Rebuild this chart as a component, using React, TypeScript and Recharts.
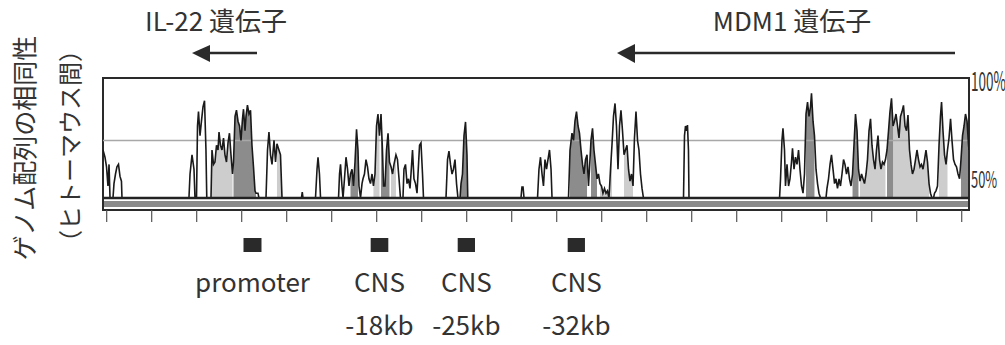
import React from 'react';
import { ComposedChart, Area, Line, XAxis, YAxis, ReferenceLine, ReferenceArea } from 'recharts';

type Pt = [number, number];

const FONT = '"Noto Sans CJK JP", "Noto Sans", sans-serif';

// position (kb) , % identity (human vs mouse)
const edgePeaks: Pt[] = [
  [-0.41, 70], [-0.19, 67], [-0.02, 63], [0.14, 55], [0.26, 64], [0.37, 50], [0.7, 50], [0.81, 56], [0.98, 60],
  [1.14, 63], [1.31, 64], [1.48, 59], [1.64, 57], [1.7, 50],
];

const il22Peaks: Pt[] = [
  [9.14, 50], [9.26, 60], [9.48, 68], [9.7, 62], [9.81, 50],
  [9.98, 50], [10.09, 80], [10.2, 86], [10.37, 76], [10.53, 82], [10.7, 88], [10.87, 90.5], [11.03, 70], [11.12, 50],
  [11.59, 50], [11.7, 70], [11.87, 64], [12.03, 65], [12.2, 72], [12.37, 70], [12.48, 77.5], [12.64, 72], [12.81, 70],
  [12.98, 75], [13.14, 68], [13.31, 65], [13.48, 73], [13.64, 77], [13.81, 68], [13.98, 60], [14.09, 65], [14.26, 84],
  [14.42, 86.6], [14.59, 82], [14.76, 80], [14.92, 74], [15.09, 83], [15.2, 87], [15.37, 78], [15.48, 84], [15.64, 88.7],
  [15.81, 85], [15.98, 86.5], [16.14, 72], [16.31, 63], [16.48, 53], [16.59, 52], [16.81, 52], [16.92, 50],
  [17.7, 50], [17.87, 70], [18.03, 77.5], [18.2, 68], [18.37, 64], [18.59, 74], [18.76, 65], [18.92, 72.6], [19.14, 70],
  [19.31, 68], [19.48, 50],
  [21.64, 50], [21.73, 52.5], [21.81, 50],
  [23.2, 50], [23.37, 62], [23.48, 67], [23.64, 60], [23.76, 50],
];

const cns18Peaks: Pt[] = [
  [25.76, 50], [25.87, 60], [25.98, 64], [26.14, 55], [26.26, 50], [26.42, 58], [26.59, 67], [26.76, 62], [26.92, 55],
  [27.09, 60], [27.26, 62], [27.42, 55], [27.59, 65], [27.76, 78.6], [27.92, 70], [28.03, 55], [28.2, 50], [28.37, 56],
  [28.48, 58], [28.64, 60], [28.81, 66], [28.98, 63], [29.14, 58], [29.31, 56], [29.48, 60], [29.64, 55], [29.81, 60],
  [29.98, 80], [30.14, 85], [30.31, 76], [30.48, 85], [30.64, 70], [30.76, 55], [30.92, 55], [31.09, 70], [31.26, 77],
  [31.42, 65], [31.59, 63], [31.76, 60], [31.92, 64], [32.14, 68], [32.31, 66], [32.48, 58], [32.64, 50],
  [32.92, 50], [33.03, 62], [33.2, 64], [33.37, 56], [33.53, 58], [33.7, 54], [33.81, 60], [33.98, 70], [34.14, 58],
  [34.31, 56], [34.48, 52], [34.59, 60], [34.76, 72], [34.92, 73], [35.09, 60], [35.2, 50],
];

const cns25Peaks: Pt[] = [
  [37.7, 50], [37.87, 66], [38.03, 69.5], [38.2, 64], [38.37, 60], [38.53, 62], [38.7, 66], [38.87, 56], [39.03, 50],
  [39.26, 50], [39.37, 56], [39.53, 60], [39.7, 76], [39.87, 81.7], [40.03, 68], [40.12, 50],
];

const cns32Peaks: Pt[] = [
  [46.03, 50], [46.14, 54.6], [46.26, 54.6], [46.37, 50],
  [47.87, 50], [48.03, 62], [48.2, 67], [48.37, 60], [48.53, 55], [48.7, 66], [48.87, 62], [49.03, 66], [49.2, 70],
  [49.37, 62], [49.48, 50],
  [51.31, 50], [51.48, 70], [51.7, 77], [51.87, 74], [52.03, 82], [52.2, 86], [52.37, 80], [52.53, 77], [52.7, 70],
  [52.87, 64], [53.03, 60], [53.2, 66], [53.37, 68], [53.53, 55], [53.64, 62], [53.81, 74], [53.98, 79], [54.14, 70],
  [54.31, 64], [54.48, 58], [54.64, 60], [54.81, 56], [54.98, 55], [55.14, 52], [55.31, 54], [55.48, 52], [55.64, 53],
  [55.81, 50], [55.98, 62], [56.14, 72], [56.31, 84], [56.48, 89.4], [56.64, 80], [56.81, 62], [56.98, 80], [57.14, 86.5],
  [57.31, 78], [57.48, 68], [57.64, 70], [57.81, 72], [57.98, 62], [58.14, 57], [58.31, 60], [58.48, 55], [58.64, 75],
  [58.81, 86], [58.98, 74], [59.14, 70], [59.31, 60], [59.48, 54], [59.64, 50],
];

const mdm1Peaks: Pt[] = [
  [64.09, 50], [64.2, 76], [64.31, 80], [64.42, 78], [64.53, 80.4], [64.64, 70], [64.7, 50],
  [74.76, 50], [74.87, 58], [75.03, 74], [75.14, 79], [75.31, 70], [75.42, 55], [75.59, 64], [75.76, 55], [75.92, 58],
  [76.09, 65], [76.2, 70.7], [76.37, 62], [76.53, 67], [76.7, 64], [76.87, 70], [77.03, 62], [77.2, 55], [77.37, 52],
  [77.53, 60], [77.7, 85], [77.87, 90], [78.03, 84], [78.2, 88], [78.31, 93.6], [78.48, 82], [78.64, 76], [78.81, 62],
  [78.98, 56], [79.14, 52], [79.31, 50],
  [79.92, 50], [80.03, 54], [80.2, 58], [80.37, 64], [80.53, 68], [80.7, 62], [80.87, 56], [81.03, 58], [81.2, 54],
  [81.37, 58], [81.53, 55], [81.7, 60], [81.87, 66], [82.03, 64], [82.2, 60], [82.37, 63], [82.53, 58], [82.7, 55],
  [82.87, 60], [83.03, 72], [83.2, 85], [83.37, 78], [83.53, 62], [83.7, 57], [83.87, 60], [84.03, 58], [84.2, 56],
  [84.37, 60], [84.53, 66], [84.7, 78], [84.87, 83], [85.03, 72], [85.2, 66], [85.37, 62], [85.53, 70], [85.7, 76],
  [85.87, 66], [86.03, 62], [86.2, 65], [86.37, 64], [86.53, 66], [86.7, 70], [86.87, 78], [87.03, 86], [87.2, 91.5],
  [87.37, 80], [87.53, 82], [87.7, 85], [87.87, 80], [88.03, 75], [88.2, 84], [88.37, 86], [88.53, 88.6], [88.7, 80],
  [88.87, 78], [89.03, 84.6], [89.2, 70], [89.37, 64], [89.53, 60], [89.7, 62], [89.87, 66], [90.03, 70], [90.2, 66],
  [90.37, 63], [90.53, 64], [90.7, 62], [90.87, 66], [91.03, 70], [91.2, 65], [91.37, 56], [91.53, 52], [91.7, 50],
  [91.87, 50], [91.98, 52], [92.14, 53], [92.31, 55], [92.48, 72], [92.64, 84], [92.76, 90], [92.92, 78], [93.09, 68],
  [93.26, 64], [93.42, 70], [93.59, 75], [93.76, 83], [93.92, 74], [94.09, 66], [94.26, 64], [94.42, 63], [94.59, 60],
  [94.76, 58], [94.92, 66], [95.09, 76], [95.26, 80], [95.42, 85], [95.59, 82], [95.76, 72], [95.81, 70],
];

// shaded (conserved element) ranges, kb
const midFillRanges: Pt[] = [
  [14.03, 16.7], [27.03, 27.92], [30.37, 31.48], [39.26, 40.12], [51.36, 53.48], [53.7, 54.48], [77.59, 78.7],
  [82.87, 83.53], [86.7, 87.37], [94.92, 95.81],
];
const lightFillRanges: Pt[] = [
  [11.7, 14.03], [18.81, 19.48], [29.64, 30.37], [31.59, 32.14], [54.81, 56.14], [57.37, 58.59], [83.7, 86.59],
  [87.37, 91.48], [92.42, 93.5],
];

const positionTicks = [0, 5, 10, 15, 20, 25, 30, 35, 40, 45, 50, 55, 60, 65, 70, 75, 80, 85, 90, 95];
const identityTicks = [50, 100];
const thresholdPct = 74;
const xDomain: Pt = [-0.41, 95.81];
const yDomain: Pt = [45, 100];

const markers = [
  { from: 15.2, to: 17.2, lines: ['promoter'] },
  { from: 29.33, to: 31.29, lines: ['CNS', '-18kb'] },
  { from: 39.0, to: 40.92, lines: ['CNS', '-25kb'] },
  { from: 51.22, to: 53.14, lines: ['CNS', '-32kb'] },
];

const inRanges = (x: number, ranges: Pt[]) => ranges.some(([a, b]) => x >= a && x <= b);

const rows = [...edgePeaks, ...il22Peaks, ...cns18Peaks, ...cns25Peaks, ...cns32Peaks, ...mdm1Peaks].map(([kb, pct]) => ({
  kb,
  pct,
  mid: inRanges(kb, midFillRanges) ? pct : null,
  light: inRanges(kb, lightFillRanges) ? pct : null,
}));

const EmptyTick = () => <g />;

const PctTick = (props: any) => {
  const { x, y, payload } = props;
  const top = payload.value === 100;
  const sx = top ? 0.5 : 0.56;
  return (
    <text
      transform={`translate(${x + 2},${y + (top ? 13 : -10)}) scale(${sx},1)`}
      fontSize={top ? 27 : 23}
      fill="#333"
      fontFamily={FONT}
    >
      {payload.value}%
    </text>
  );
};

const MarkerLabel = (props: any) => {
  const { viewBox, lines } = props;
  if (!viewBox) return null;
  const cx = viewBox.x + viewBox.width / 2;
  const bottom = viewBox.y + viewBox.height;
  return (
    <g>
      {lines.map((t: string, i: number) => (
        <text key={i} x={cx} y={bottom + 40 + i * 43} textAnchor="middle" fontSize={26} fill="#333" fontFamily={FONT}>
          {t}
        </text>
      ))}
    </g>
  );
};

export default function App() {
  return (
    <div style={{ position: 'absolute', left: 0, top: 0, width: 1005, height: 345, background: '#fff' }}>
      <ComposedChart width={1005} height={345} data={rows} margin={{ top: 78, right: 0, bottom: 123, left: 103 }}>
        <XAxis
          dataKey="kb"
          type="number"
          domain={xDomain}
          allowDataOverflow
          ticks={positionTicks}
          tick={<EmptyTick />}
          tickSize={12}
          axisLine={false}
          tickLine={{ stroke: '#555', strokeWidth: 1.2 }}
          height={12}
        />
        <YAxis
          orientation="right"
          type="number"
          domain={yDomain}
          allowDataOverflow
          ticks={identityTicks}
          width={36}
          axisLine={false}
          tickLine={false}
          tickSize={0}
          tickMargin={0}
          tick={<PctTick />}
        />
        <ReferenceArea y1={46.25} y2={48.75} fill="#8a8a8a" fillOpacity={1} stroke="none" />
        <ReferenceLine y={thresholdPct} stroke="#a8a8a8" strokeWidth={1.5} />
        <Area type="linear" dataKey="light" baseValue={50} fill="#cdcdcd" fillOpacity={1} stroke="none" isAnimationActive={false} />
        <Area type="linear" dataKey="mid" baseValue={50} fill="#8c8c8c" fillOpacity={1} stroke="none" isAnimationActive={false} />
        <Line type="linear" dataKey="pct" stroke="#1a1a1a" strokeWidth={1.6} dot={false} isAnimationActive={false} />
        <ReferenceLine y={50} stroke="#222" strokeWidth={2.5} />
        <ReferenceArea x1={xDomain[0]} x2={xDomain[1]} y1={yDomain[0]} y2={yDomain[1]} fill="none" stroke="#2a2a2a" strokeWidth={2} />
        {markers.map((m) => (
          <ReferenceArea
            key={m.lines.join('')}
            x1={m.from}
            x2={m.to}
            y1={27.5}
            y2={33.33}
            ifOverflow="visible"
            fill="#2a2a2a"
            fillOpacity={1}
            stroke="none"
            label={<MarkerLabel lines={m.lines} />}
          />
        ))}
      </ComposedChart>
      <svg width={1005} height={345} style={{ position: 'absolute', left: 0, top: 0, pointerEvents: 'none' }}>
        <text x={216} y={30.5} textAnchor="middle" fontSize={26} fill="#333" fontFamily={FONT}>IL-22 遺伝子</text>
        <text x={792} y={30.5} textAnchor="middle" fontSize={26} fill="#333" fontFamily={FONT}>MDM1 遺伝子</text>
        <line x1={206} y1={53} x2={257} y2={53} stroke="#2a2a2a" strokeWidth={2.6} />
        <polygon points="192,53 210,45 210,62" fill="#2a2a2a" />
        <line x1={632} y1={53} x2={955} y2={53} stroke="#2a2a2a" strokeWidth={2.6} />
        <polygon points="617,53 635,44 635,63" fill="#2a2a2a" />
        <text transform="translate(23,148) rotate(-90)" textAnchor="middle" dominantBaseline="central" fontSize={25} fill="#333" fontFamily={FONT}>
          ゲノム配列の相同性
        </text>
        <text transform="translate(68,146) rotate(-90)" textAnchor="middle" dominantBaseline="central" fontSize={24} fill="#333" fontFamily={FONT}>
          （ヒトーマウス間）
        </text>
      </svg>
    </div>
  );
}
